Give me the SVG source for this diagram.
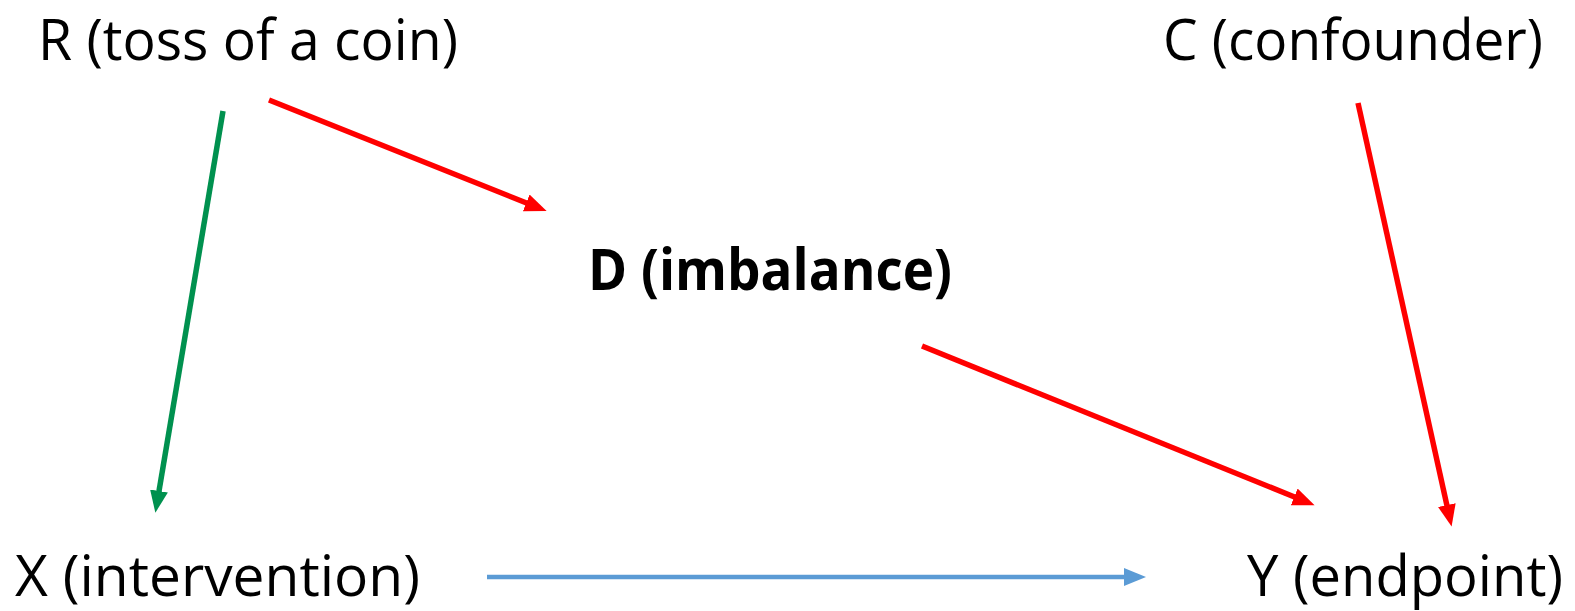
<svg xmlns="http://www.w3.org/2000/svg" width="1575" height="611" viewBox="0 0 1575 611">
<style>
.t{font-family:"Open Sans","Liberation Sans",sans-serif;font-size:57px;fill:#000}
.b{font-weight:bold}
.r{stroke:#FF0000;stroke-width:5.5;fill:none}
.g{stroke:#00914F;stroke-width:5.5;fill:none}
.bl{stroke:#5B9BD5;stroke-width:4.5;fill:none}
</style>
<defs>
<marker id="mr" markerUnits="userSpaceOnUse" markerWidth="26" markerHeight="20" refX="3" refY="9" orient="auto"><path d="M0,0 L22,9 L0,18 z" fill="#FF0000"/></marker>
<marker id="mg" markerUnits="userSpaceOnUse" markerWidth="26" markerHeight="20" refX="3" refY="9" orient="auto"><path d="M0,0 L22,9 L0,18 z" fill="#00914F"/></marker>
<marker id="mb" markerUnits="userSpaceOnUse" markerWidth="26" markerHeight="20" refX="3" refY="9" orient="auto"><path d="M0,0 L22,9 L0,18 z" fill="#5B9BD5"/></marker>
</defs>
<rect width="1575" height="611" fill="#fff"/>
<g id="R"><text class="t" x="38" y="60" textLength="420" lengthAdjust="spacingAndGlyphs">R (toss of a coin)</text></g>
<g id="C"><text class="t" x="1163" y="60" textLength="380" lengthAdjust="spacingAndGlyphs">C (confounder)</text></g>
<g id="D"><text class="t b" x="588" y="290" textLength="364" lengthAdjust="spacingAndGlyphs">D (imbalance)</text></g>
<g id="X"><text class="t" x="15" y="596" textLength="405" lengthAdjust="spacingAndGlyphs">X (intervention)</text></g>
<g id="Y"><text class="t" x="1247" y="596" textLength="316" lengthAdjust="spacingAndGlyphs">Y (endpoint)</text></g>
<g id="connectors">
<line class="g" x1="223" y1="111" x2="158.5" y2="494" marker-end="url(#mg)"/>
<line class="r" x1="269" y1="100" x2="529" y2="204" marker-end="url(#mr)"/>
<line class="r" x1="922" y1="346" x2="1297" y2="498" marker-end="url(#mr)"/>
<line class="r" x1="1358" y1="103" x2="1447.5" y2="508" marker-end="url(#mr)"/>
<line class="bl" x1="487" y1="577" x2="1127" y2="577" marker-end="url(#mb)"/>
</g>
</svg>
